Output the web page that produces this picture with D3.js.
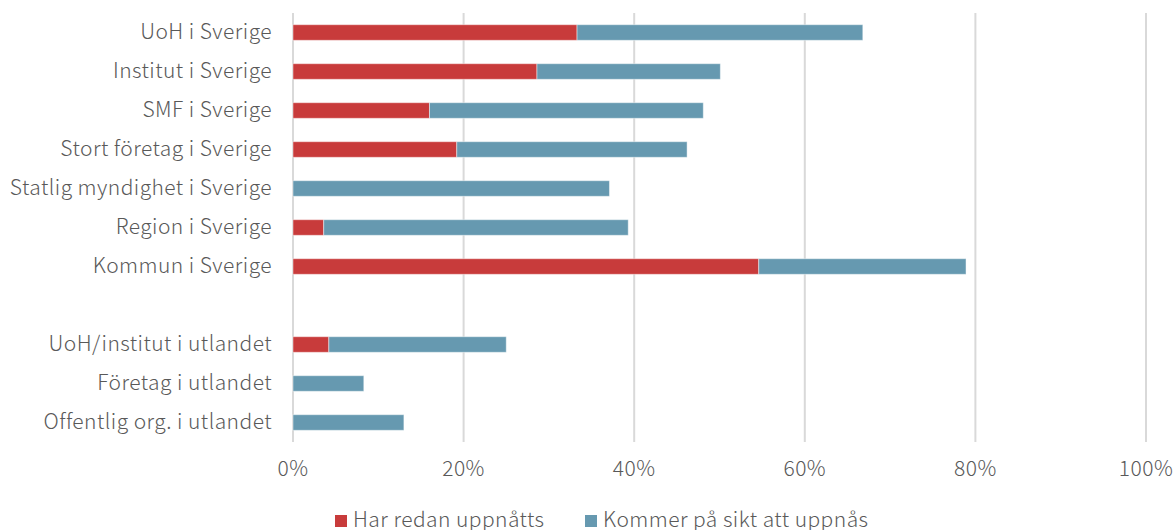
<!DOCTYPE html>
<html>
<head>
<meta charset="utf-8">
<script src="https://cdn.jsdelivr.net/npm/d3@7"></script>
<style>
  body { margin: 0; background: #fff; }
  svg text { font-family: "Noto Sans CJK JP", "Noto Sans", sans-serif; font-weight: 300; fill: #595959; letter-spacing: 0.45px; }
</style>
</head>
<body>
<script>
// categories top to bottom, "" is the empty gap row
const categories = [
  "UoH i Sverige",
  "Institut i Sverige",
  "SMF i Sverige",
  "Stort företag i Sverige",
  "Statlig myndighet i Sverige",
  "Region i Sverige",
  "Kommun i Sverige",
  "",
  "UoH/institut i utlandet",
  "Företag i utlandet",
  "Offentlig org. i utlandet"
];
const redan = [33.3, 28.6, 16.0, 19.2, 0, 3.6, 54.6, null, 4.2, 0, 0];
const sikt = [33.5, 21.5, 32.1, 27.0, 37.1, 35.7, 24.3, null, 20.8, 8.3, 13.0];
const seriesNames = ["Har redan uppnåtts", "Kommer på sikt att uppnås"];
const seriesColors = ["#C83B3B", "#6699B0"];
const xTicks = [0, 20, 40, 60, 80, 100];

const width = 1174, height = 530;
const margin = { top: 13, right: 28, bottom: 88, left: 293 };
const fontSize = "21px";

const svg = d3.select("body").append("svg")
  .attr("width", width)
  .attr("height", height);

const x = d3.scaleLinear()
  .domain([0, 100])
  .range([margin.left, width - margin.right]);

const y = d3.scaleBand()
  .domain(d3.range(categories.length))
  .range([margin.top, height - margin.bottom])
  .paddingInner(0.6)
  .paddingOuter(0.3);

// gridlines
svg.append("g")
  .selectAll("line")
  .data(xTicks)
  .enter()
  .append("line")
  .attr("x1", d => x(d))
  .attr("x2", d => x(d))
  .attr("y1", margin.top)
  .attr("y2", height - margin.bottom)
  .attr("stroke", "#d9d9d9")
  .attr("stroke-width", 2);

// stacked data
const rows = categories.map((c, i) => ({ i: i, a: redan[i], b: sikt[i] }))
  .filter(d => d.a !== null);

const stack = d3.stack().keys(["a", "b"]);
const stacked = stack(rows);

svg.append("g")
  .selectAll("g")
  .data(stacked)
  .enter()
  .append("g")
  .attr("fill", (d, k) => seriesColors[k])
  .selectAll("rect")
  .data(d => d.filter(p => p[1] - p[0] > 0))
  .enter()
  .append("rect")
  .attr("x", d => x(d[0]))
  .attr("width", d => x(d[1]) - x(d[0]))
  .attr("y", d => y(d.data.i))
  .attr("height", y.bandwidth())
  .attr("stroke", "rgba(255,255,255,0.45)")
  .attr("stroke-width", 1);

// category labels
svg.append("g")
  .selectAll("text")
  .data(categories)
  .enter()
  .append("text")
  .attr("x", margin.left - 21)
  .attr("y", (d, i) => y(i) + y.bandwidth() / 2)
  .attr("dy", "0.3em")
  .attr("text-anchor", "end")
  .style("font-size", fontSize)
  .text(d => d);

// x tick labels
svg.append("g")
  .selectAll("text")
  .data(xTicks)
  .enter()
  .append("text")
  .attr("x", d => x(d))
  .attr("y", 470)
  .attr("dy", "0.3em")
  .attr("text-anchor", "middle")
  .style("font-size", fontSize)
  .text(d => d + "%");

// legend
const legendX = [335, 585];
const legend = svg.append("g")
  .selectAll("g")
  .data(seriesNames)
  .enter()
  .append("g")
  .attr("transform", (d, i) => `translate(${legendX[i]},521)`);

legend.append("rect")
  .attr("x", 0)
  .attr("y", -6)
  .attr("width", 12)
  .attr("height", 12)
  .attr("fill", (d, i) => seriesColors[i]);

legend.append("text")
  .attr("x", 18)
  .attr("y", 0)
  .attr("dy", "0.3em")
  .style("font-size", fontSize)
  .text(d => d);
</script>
</body>
</html>
